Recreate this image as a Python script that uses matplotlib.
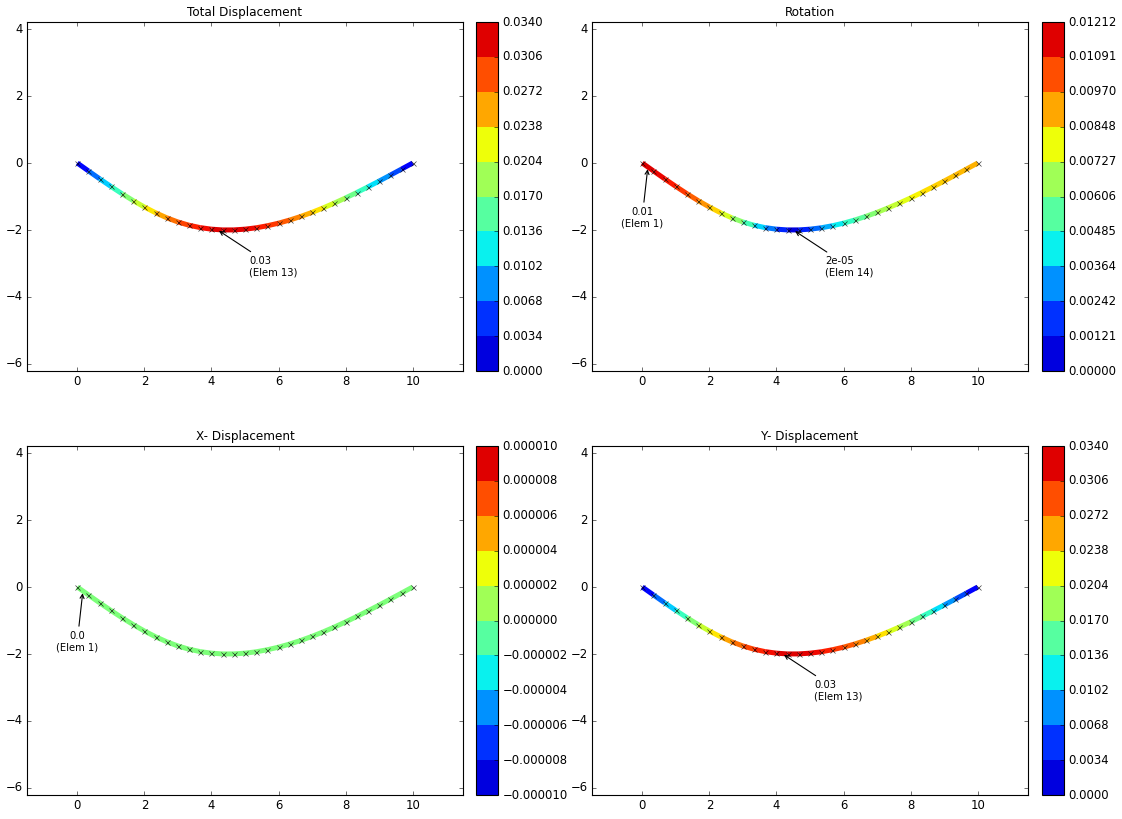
import numpy as np
import matplotlib
matplotlib.use("Agg")
import matplotlib.pyplot as plt
from matplotlib.collections import LineCollection
from matplotlib.colors import Normalize, ListedColormap, BoundaryNorm
from matplotlib.colorbar import ColorbarBase
from matplotlib.ticker import FuncFormatter

plt.style.use("classic")

# node coordinates of the deformed beam (as drawn)
node_x = [i / 3.0 for i in range(31)]
node_y = [0.0, -0.237, -0.471, -0.698, -0.917, -1.123, -1.313, -1.485, -1.635, -1.760,
          -1.858, -1.929, -1.975, -1.998, -1.997, -1.975, -1.934, -1.873, -1.796, -1.702,
          -1.594, -1.473, -1.339, -1.195, -1.042, -0.880, -0.712, -0.539, -0.361, -0.181, 0.0]

# element results (30 elements)
total_disp = [0.00202, 0.00602, 0.00995, 0.01375, 0.01736, 0.02074, 0.02382, 0.02656, 0.02891, 0.03081,
              0.03224, 0.03324, 0.03400, 0.03398, 0.03381, 0.03327, 0.03240, 0.03122, 0.02977, 0.02805,
              0.02609, 0.02392, 0.02156, 0.01903, 0.01635, 0.01355, 0.01064, 0.00766, 0.00462, 0.00154]
rotation = [0.01212, 0.01193, 0.01161, 0.01114, 0.01051, 0.00972, 0.00877, 0.00766, 0.00639, 0.00499,
            0.00364, 0.00235, 0.00113, 0.000022, 0.00111, 0.00213, 0.00308, 0.00396, 0.00477, 0.00552,
            0.00620, 0.00681, 0.00735, 0.00783, 0.00823, 0.00857, 0.00884, 0.00905, 0.00918, 0.00925]
x_disp = [0.0] * 30
y_disp = list(total_disp)

titles = ["Total Displacement", "Rotation", "X- Displacement", "Y- Displacement"]
results = [total_disp, rotation, x_disp, y_disp]
cbar_ranges = [(0.0, 0.034), (0.0, 0.01212), (-0.00001, 0.00001), (0.0, 0.034)]
cbar_fmts = ["%.4f", "%.5f", "%.6f", "%.4f"]
# annotated elements (1-based)
annot_elems = [[13], [1, 14], [1], [13]]


def fmt_val(v):
    return str(float("%.1g" % v))


fig = plt.figure(figsize=(1122 / 80.0, 819 / 80.0), dpi=80, facecolor="white")

ax_pos = [(0.02406, 0.5470), (0.5276, 0.5470), (0.02406, 0.0293), (0.5276, 0.0293)]
cb_left = [0.4242, 0.9287, 0.4242, 0.9287]
w, h = 0.3886, 0.4261

jet = plt.get_cmap("jet")
bin_colors = ListedColormap(jet(np.linspace(0.083, 0.917, 10)))

segs = [[(node_x[i], node_y[i]), (node_x[i + 1], node_y[i + 1])] for i in range(30)]

for k in range(4):
    ax = fig.add_axes([ax_pos[k][0], ax_pos[k][1], w, h])
    vals = np.array(results[k])
    lo, hi = cbar_ranges[k]
    pad = 0.0995 * (hi - lo)
    norm = Normalize(vmin=lo - pad, vmax=hi + pad)
    lc = LineCollection(segs, cmap=jet, norm=norm, linewidths=4.5)
    lc.set_array(vals)
    ax.add_collection(lc)
    ax.plot(node_x, node_y, linestyle="none", marker="x", color="k",
            markersize=4.5, markeredgewidth=0.6, alpha=0.8)

    for e in annot_elems[k]:
        mx = 0.5 * (node_x[e - 1] + node_x[e])
        my = 0.5 * (node_y[e - 1] + node_y[e])
        if e == 1:
            txy, ha = (mx - 0.17, my - 1.52), "center"
        else:
            txy, ha = (mx + 0.95, my - 1.1), "left"
        ax.annotate(fmt_val(vals[e - 1]) + "\n(Elem %d)" % e, xy=(mx, my), xytext=txy,
                    ha=ha, va="center", fontsize=9,
                    arrowprops=dict(arrowstyle="->", color="k", lw=1))

    ax.set_xlim(-1.5, 11.5)
    ax.set_ylim(-6.21, 4.21)
    ax.set_xticks([0, 2, 4, 6, 8, 10])
    ax.set_yticks([-6, -4, -2, 0, 2, 4])
    ax.tick_params(labelsize=10.5)
    ax.set_title(titles[k], fontsize=10.8)

    cax = fig.add_axes([cb_left[k], ax_pos[k][1], 0.0196, h])
    levels = np.linspace(lo, hi, 11)
    cb = ColorbarBase(cax, cmap=bin_colors, norm=BoundaryNorm(levels, 10),
                      boundaries=levels, ticks=levels, spacing="uniform")
    f = cbar_fmts[k]
    cb.formatter = FuncFormatter(lambda v, p, f=f: (f % (0.0 if abs(v) < 1e-12 else v)).replace("-", "\u2212"))
    cb.update_ticks()
    cax.tick_params(labelsize=10.5)

fig.savefig("out.png", dpi=80, facecolor="white")
